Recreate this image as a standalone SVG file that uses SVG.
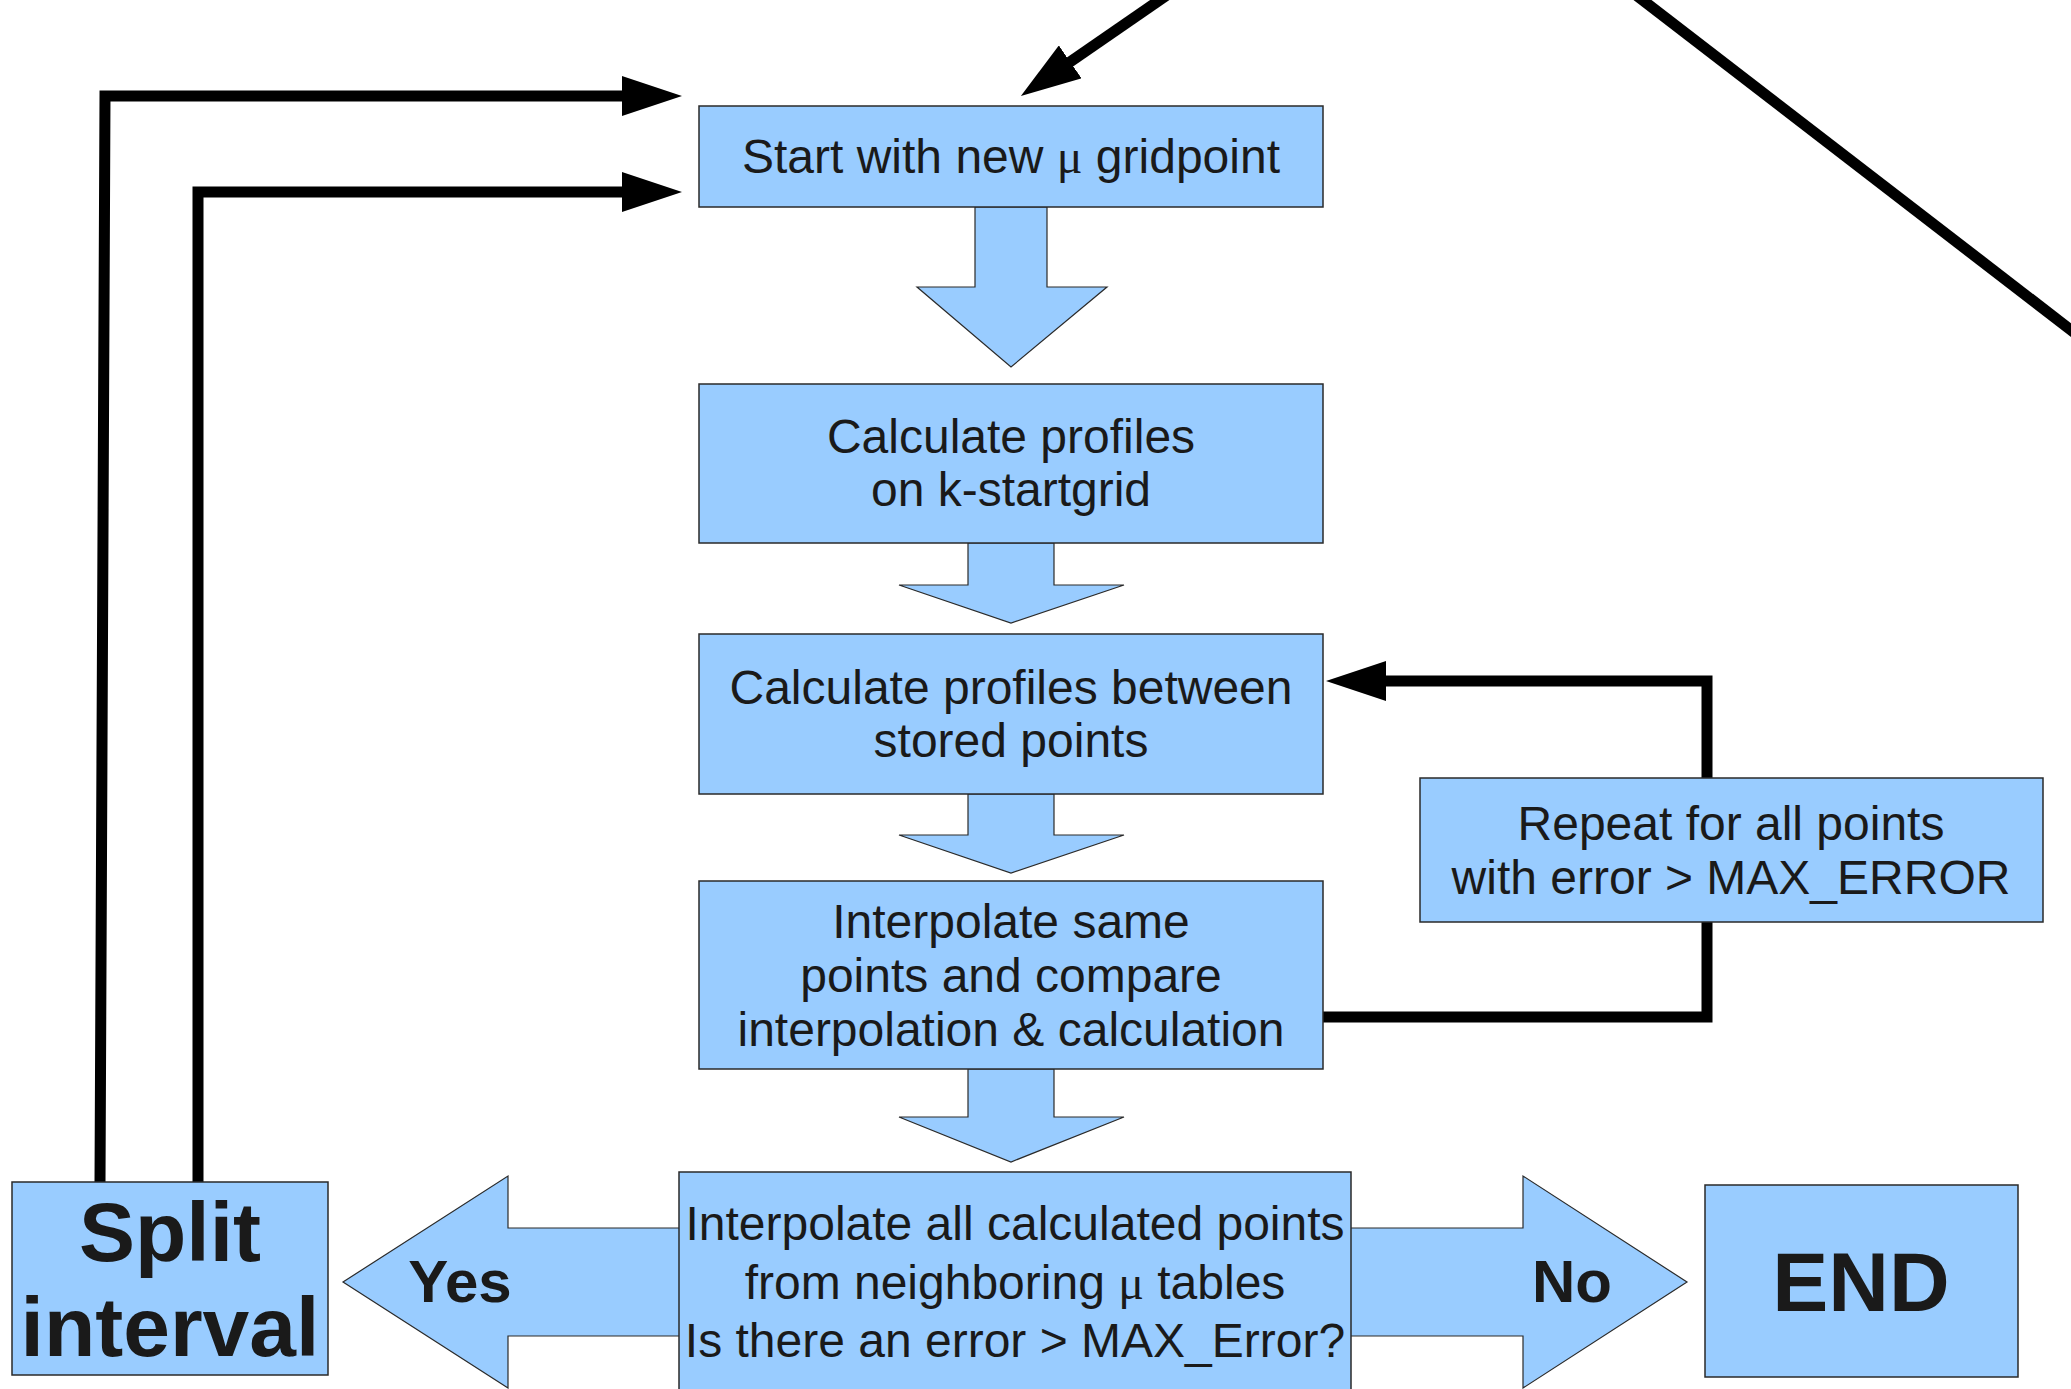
<svg xmlns="http://www.w3.org/2000/svg" width="2071" height="1389" viewBox="0 0 2071 1389">
<style>
.box{fill:#99ccff;stroke:#2a2a2a;stroke-width:1.5}
.blk{fill:#99ccff;stroke:#2a2a2a;stroke-width:1.2}
.t{font-family:"Liberation Sans",Arial,sans-serif;font-size:48px;fill:#1a1a1a;text-anchor:middle}
.b{font-family:"Liberation Sans",Arial,sans-serif;font-weight:bold;fill:#1a1a1a;text-anchor:middle}
.mu{font-family:"Liberation Serif","DejaVu Serif",serif}
.con{fill:none;stroke:#000;stroke-width:11;stroke-linejoin:miter}
</style>
<defs>
<marker id="ah" viewBox="0 0 60 40" markerWidth="60" markerHeight="40" markerUnits="userSpaceOnUse" refX="10" refY="20" orient="auto">
<path d="M0,0 L60,20 L0,40 z" fill="#000"/>
</marker>
</defs>
<rect width="2071" height="1389" fill="#fff"/>
<g id="connectors">
<path class="con" d="M100,1182 L105,96 L632,96" marker-end="url(#ah)"/>
<path class="con" d="M198,1182 L198,192 L632,192" marker-end="url(#ah)"/>
<path class="con" d="M1167,-5 L1062,67.6" marker-end="url(#ah)"/>
<path class="con" d="M1636,-5 L2080,337"/>
<path class="con" d="M1323,1017 L1707,1017 L1707,681 L1376,681" marker-end="url(#ah)"/>
</g>
<g id="flow-arrows">
<polygon class="blk" points="975,207 1047,207 1047,287 1107,287 1011,367 917,287 975,287"/>
<polygon class="blk" points="968,543 1054,543 1054,585 1124,585 1011,623 899,585 968,585"/>
<polygon class="blk" points="968,794 1054,794 1054,835 1124,835 1011,873 899,835 968,835"/>
<polygon class="blk" points="968,1069 1054,1069 1054,1117 1124,1117 1011,1162 899,1117 968,1117"/>
</g>
<g id="start">
<rect class="box" x="699" y="106" width="624" height="101"/>
<text class="t" x="1011" y="173">Start with new <tspan class="mu">μ</tspan> gridpoint</text>
</g>
<g id="calc-startgrid">
<rect class="box" x="699" y="384" width="624" height="159"/>
<text class="t" x="1011" y="453">Calculate profiles</text>
<text class="t" x="1011" y="506">on k-startgrid</text>
</g>
<g id="calc-between">
<rect class="box" x="699" y="634" width="624" height="160"/>
<text class="t" x="1011" y="704">Calculate profiles between</text>
<text class="t" x="1011" y="757">stored points</text>
</g>
<g id="interpolate-same">
<rect class="box" x="699" y="881" width="624" height="188"/>
<text class="t" x="1011" y="938">Interpolate same</text>
<text class="t" x="1011" y="992">points and compare</text>
<text class="t" x="1011" y="1046">interpolation &amp; calculation</text>
</g>
<g id="repeat">
<rect class="box" x="1420" y="778" width="623" height="144"/>
<text class="t" x="1731" y="840">Repeat for all points</text>
<text class="t" x="1731" y="894">with error &gt; MAX_ERROR</text>
</g>
<g id="decision">
<polygon class="blk" points="343,1282 508,1176 508,1228 1523,1228 1523,1176 1687,1282 1523,1388 1523,1336 508,1336 508,1388"/>
<rect class="box" x="679" y="1172" width="672" height="230"/>
<text class="t" x="1015" y="1240">Interpolate all calculated points</text>
<text class="t" x="1015" y="1299">from neighboring <tspan class="mu">μ</tspan> tables</text>
<text class="t" x="1015" y="1357">Is there an error &gt; MAX_Error?</text>
<text class="b" x="460" y="1302" font-size="60">Yes</text>
<text class="b" x="1572" y="1302" font-size="60">No</text>
</g>
<g id="split">
<rect class="box" x="12" y="1182" width="316" height="193"/>
<text class="b" x="170" y="1261" font-size="84">Split</text>
<text class="b" x="170" y="1356" font-size="84">interval</text>
</g>
<g id="end">
<rect class="box" x="1705" y="1185" width="313" height="192"/>
<text class="b" x="1861" y="1311" font-size="84">END</text>
</g>
</svg>
